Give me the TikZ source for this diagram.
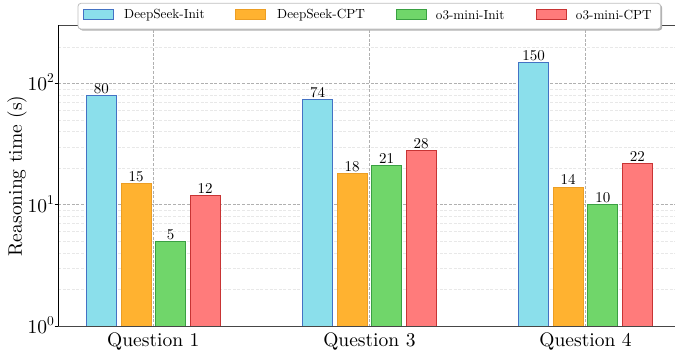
\documentclass[tikz,border=0pt]{standalone}
\usepackage{fontspec}
\setmainfont{lmroman10-regular.otf}
\definecolor{cyfill}{RGB}{139,223,235}
\definecolor{cyedge}{RGB}{68,114,196}
\definecolor{orfill}{RGB}{255,178,48}
\definecolor{oredge}{RGB}{236,158,36}
\definecolor{grfill}{RGB}{112,214,106}
\definecolor{gredge}{RGB}{58,160,66}
\definecolor{rdfill}{RGB}{255,123,123}
\definecolor{rdedge}{RGB}{200,52,52}
\definecolor{majgrid}{RGB}{176,176,176}
\definecolor{mingrid}{RGB}{232,232,232}
\definecolor{spinegray}{RGB}{70,70,70}
\newcommand{\pw}[1]{10\raisebox{0.42em}{\fontsize{13.5}{14}\selectfont #1}}
\tikzset{
  majline/.style={majgrid, line width=0.7pt, dash pattern=on 3pt off 1.6pt},
  minline/.style={mingrid, line width=0.6pt, dash pattern=on 3pt off 1.6pt},
  barlabel/.style={font=\fontsize{15}{16}\selectfont, anchor=base, inner sep=0pt},
  ticklabel/.style={font=\fontsize{19.5}{20}\selectfont, inner sep=0pt},
  legtext/.style={font=\fontsize{13.2}{14}\selectfont, anchor=west, inner sep=0pt},
  cybar/.style={fill=cyfill, draw=cyedge, line width=0.9pt},
  orbar/.style={fill=orfill, draw=oredge, line width=0.9pt},
  grbar/.style={fill=grfill, draw=gredge, line width=0.9pt},
  rdbar/.style={fill=rdfill, draw=rdedge, line width=0.9pt},
}
\begin{document}
\begin{tikzpicture}[x=1pt,y=-1pt]
\useasboundingbox (0,0) rectangle (675,354);
% minor grid
\foreach \k in {0,1,2}{
  \foreach \m in {2,...,9}{
    \pgfmathsetmacro\yy{326-121.3*(\k+log10(\m))}
    \pgfmathparse{\yy>25 ? 1 : 0}
    \ifnum\pgfmathresult=1
      \draw[minline] (58,\yy) -- (675,\yy);
    \fi
  }
}
% major grid
\foreach \k in {1,2}{
  \pgfmathsetmacro\yy{326-121.3*\k}
  \draw[majline] (58,\yy) -- (675,\yy);
}
% vertical grid
\foreach \cx in {153.3,369.4,585.5}{
  \draw[majline] (\cx,25) -- (\cx,326);
}
% bars
\foreach \cx/\a/\b/\c/\d [count=\q] in {153.3/80/15/5/12, 369.4/74/18/21/28, 585.5/150/14/10/22}{
  \foreach \v/\off/\st [count=\i] in {\a/-51.84/cybar, \b/-17.28/orbar, \c/17.28/grbar, \d/51.84/rdbar}{
    \pgfmathsetmacro\yt{326-121.3*log10(\v)}
    \pgfmathsetmacro\xl{\cx+\off-15}
    \pgfmathsetmacro\xr{\cx+\off+15}
    \pgfmathsetmacro\xc{\cx+\off}
    \pgfmathsetmacro\yl{\yt-2}
    \draw[\st] (\xl,326) rectangle (\xr,\yt);
    \node[barlabel] (lab-\q-\i) at (\xc,\yl) {\v};
  }
}
% spines
\draw[spinegray, line width=0.9pt] (58,326) -- (675,326);
\draw[spinegray, line width=0.9pt] (58,25) -- (675,25);
\draw[black, line width=0.9pt] (58,25) -- (58,326);
% y ticks
\foreach \k in {0,1,2}{
  \pgfmathsetmacro\yy{326-121.3*\k}
  \draw[black, line width=0.8pt] (54.5,\yy) -- (58,\yy);
  \node[ticklabel, anchor=base east] (yt-\k) at (54,\yy+7.5) {\pw{\k}};
}
% x tick labels
\node[ticklabel, anchor=base] (q1) at (153.3,346) {Question 1};
\node[ticklabel, anchor=base] (q3) at (369.4,346) {Question 3};
\node[ticklabel, anchor=base] (q4) at (585.5,346) {Question 4};
% y label
\node[ticklabel, rotate=90] (ylab) at (17,176) {Reasoning time (s)};
% legend
\fill[black!30, rounded corners=3pt] (79.5,4.8) rectangle (662.2,30.5);
\draw[black!25, fill=white, line width=0.8pt, rounded corners=3pt] (78,3.3) rectangle (660.7,29);
\draw[cybar] (83,9.5) rectangle (113,19);
\node[legtext] (l1) at (124,15) {DeepSeek-Init};
\draw[orbar] (235.5,9.5) rectangle (265.5,19);
\node[legtext] (l2) at (277,15) {DeepSeek-CPT};
\draw[grbar] (396,9.5) rectangle (426,19);
\node[legtext] (l3) at (435.7,15) {o3-mini-Init};
\draw[rdbar] (536.5,9.5) rectangle (566.5,19);
\node[legtext] (l4) at (575.7,15) {o3-mini-CPT};
\end{tikzpicture}
\end{document}
